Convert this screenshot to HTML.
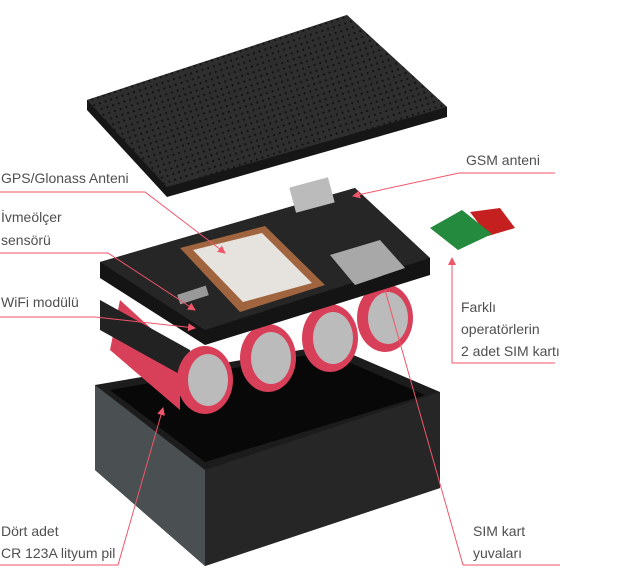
<!DOCTYPE html>
<html><head><meta charset="utf-8"><style>
html,body{margin:0;padding:0;background:#fff;width:621px;height:569px;overflow:hidden}
svg{display:block}
text{font-family:"Liberation Sans",sans-serif;font-size:14px;fill:#4f4f4f}
</style></head><body>
<svg width="621" height="569" viewBox="0 0 621 569">
<defs>
<pattern id="dots" width="6" height="6" patternUnits="userSpaceOnUse" patternTransform="rotate(-18)">
<rect width="6" height="6" fill="#2e2e2e"/><circle cx="3" cy="3" r="1.1" fill="#111"/>
</pattern>
<marker id="ar" markerWidth="8" markerHeight="8" refX="7" refY="4" orient="auto" markerUnits="userSpaceOnUse">
<path d="M0,0 L8,4 L0,8 Z" fill="#f0566a"/></marker>
</defs>
<!-- box -->
<path d="M95,385 L330,345 L440,392 L440,488 L205,566 L95,470 Z" fill="#1c1c1c"/>
<path d="M205,470 L440,392 L440,488 L205,566 Z" fill="#262626"/>
<path d="M95,385 L205,470 L205,566 L95,470 Z" fill="#4a4f52"/>
<path d="M110,390 L325,352 L425,395 L205,462 Z" fill="#080808"/>
<!-- batteries -->
<g>
<ellipse cx="385" cy="318" rx="28" ry="34" fill="#d8405a"/><ellipse cx="388" cy="318" rx="20" ry="26" fill="#bbb"/>
<ellipse cx="330" cy="338" rx="28" ry="34" fill="#d8405a"/><ellipse cx="333" cy="338" rx="20" ry="26" fill="#bbb"/>
<ellipse cx="268" cy="358" rx="28" ry="34" fill="#d8405a"/><ellipse cx="271" cy="358" rx="20" ry="26" fill="#bbb"/>
<path d="M120,300 L180,355 L180,410 L110,350 Z" fill="#d8405a"/>
<path d="M100,300 L190,350 L190,380 L100,330 Z" fill="#222"/>
<ellipse cx="205" cy="380" rx="28" ry="34" fill="#d8405a"/><ellipse cx="208" cy="380" rx="20" ry="26" fill="#bbb"/>
</g>
<!-- PCB -->
<path d="M100,262 L355,188 L430,258 L430,275 L205,345 L100,278 Z" fill="#141414"/>
<path d="M100,262 L355,188 L430,258 L205,330 Z" fill="#262626"/>
<rect x="292" y="182" width="40" height="26" fill="#bbb" transform="rotate(-15 312 195)"/>
<path d="M330,255 L380,240 L405,268 L355,285 Z" fill="#a8a8a8"/>
<path d="M180,248 L265,226 L325,285 L240,312 Z" fill="#a0653e"/>
<path d="M193,250 L262,233 L312,283 L243,302 Z" fill="#e6e3df"/>
<rect x="178" y="290" width="30" height="10" fill="#999" transform="rotate(-18 193 295)"/>
<!-- lid -->
<path d="M87,100 L347,15 L447,107 L447,117 L167,197 L87,110 Z" fill="#161616"/>
<path d="M87,100 L347,15 L447,107 L167,187 Z" fill="url(#dots)"/>
<!-- SIM cards -->
<path d="M470,212 L500,208 L515,228 L488,236 Z" fill="#c52020"/>
<path d="M430,228 L462,210 L492,234 L458,250 Z" fill="#238a3e"/>
<!-- lines -->
<g stroke="#f0566a" stroke-width="1" fill="none">
<polyline points="0,192 145,192 225,253" marker-end="url(#ar)"/>
<polyline points="0,253 108,253 195,310" marker-end="url(#ar)"/>
<polyline points="0,317 95,317 195,328" marker-end="url(#ar)"/>
<polyline points="555,173 459,173 353,196" marker-end="url(#ar)"/>
<polyline points="555,363 452,363 452,258" marker-end="url(#ar)"/>
<polyline points="0,565 118,565 163,408" marker-end="url(#ar)"/>
<polyline points="560,565 463,565 385,290"/>
</g>
<text x="1" y="183">GPS/Glonass Anteni</text>
<text x="1" y="222">İvmeölçer</text>
<text x="1" y="245">sensörü</text>
<text x="1" y="307">WiFi modülü</text>
<text x="466" y="165">GSM anteni</text>
<text x="461" y="312">Farklı</text>
<text x="461" y="334">operatörlerin</text>
<text x="461" y="356">2 adet SIM kartı</text>
<text x="1" y="536">Dört adet</text>
<text x="1" y="558">CR 123A lityum pil</text>
<text x="473" y="536">SIM kart</text>
<text x="473" y="558">yuvaları</text>
</svg>
</body></html>
